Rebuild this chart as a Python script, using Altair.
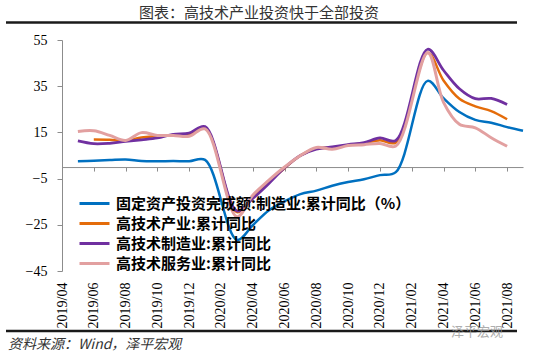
import altair as alt
import pandas as pd

months = ["2019/04", "2019/05", "2019/06", "2019/07", "2019/08", "2019/09", "2019/10", "2019/11", "2019/12",
          "2020/01", "2020/02", "2020/03", "2020/04", "2020/05", "2020/06", "2020/07", "2020/08", "2020/09",
          "2020/10", "2020/11", "2020/12", "2021/01", "2021/02", "2021/03", "2021/04", "2021/05", "2021/06",
          "2021/07", "2021/08", "2021/09"]
tick_labels = months[0::2]

series_names = ["固定资产投资完成额:制造业:累计同比（%）", "高技术产业:累计同比",
                "高技术制造业:累计同比", "高技术服务业:累计同比"]
series_colors = ["#0070C0", "#E46C0A", "#7030A0", "#E2A0A0"]

fai_mfg = [None, 2.5, 2.7, 3.0, 3.3, 2.6, 2.5, 2.6, 2.5, 3.1, None, -31.5, -25.2, -18.8, -14.8, -11.7,
           -10.2, -8.1, -6.5, -5.3, -3.5, -2.2, None, 37.3, 29.8, 23.8, 20.4, 19.2, 17.3, 15.7]
hightech = [None, None, 11.9, 11.8, 11.4, 12.8, 13.4, 13.9, 14.2, 17.0, None, -19.5, -13.0, -6.5, -0.5, 5.0,
            8.0, 8.5, 9.5, 10.3, 11.6, 10.6, None, 49.5, 37.5, 29.6, 26.3, 24.2, 20.7, None]
hightech_mfg = [None, 11.3, 10.1, 10.3, 11.1, 11.8, 12.6, 14.2, 14.7, 17.5, None, -19.0, -13.6, -7.2, -0.3, 5.0,
                7.7, 8.7, 9.7, 10.6, 12.6, 11.5, None, 51.0, 41.9, 33.9, 29.6, 29.7, 27.1, None]
hightech_srv = [None, 15.4, 15.7, 13.7, 11.5, 14.9, 13.7, 13.7, 13.3, 16.5, None, -21.5, -12.2, -5.8, 0.0, 5.0,
                8.5, 7.7, 9.3, 9.7, 10.2, 9.1, None, 49.5, 28.0, 18.5, 17.0, 12.7, 9.0, None]

title_text = "图表：高技术产业投资快于全部投资"
source_text = "资料来源：Wind，泽平宏观"
watermark_text = "泽平宏观"

rows = []
for name, vals in zip(series_names, [fai_mfg, hightech, hightech_mfg, hightech_srv]):
    for m, v in zip(months, vals):
        if v is not None:
            rows.append({"month": m, "series": name, "value": v})
df = pd.DataFrame(rows)

W, H = 461, 231
SERIF = "Liberation Serif"
CJK = "Noto Sans CJK SC"

x_scale = alt.Scale(type="point", domain=months, padding=0)
y_scale = alt.Scale(domain=[-45, 55], nice=False, zero=False)

x_axis = alt.Axis(values=tick_labels, title=None, grid=False, offset=-H * 0.45,
                  domainColor="#8c8c8c", domainWidth=1, tickColor="#8c8c8c", tickSize=4,
                  labelAngle=270, labelFont=SERIF, labelFontSize=14, labelColor="black",
                  labelPadding=111, labelOverlap=False)
y_axis = alt.Axis(values=[-45, -25, -5, 15, 35, 55], title=None, grid=False,
                  domainColor="#8c8c8c", tickColor="#8c8c8c", tickSize=5,
                  labelFont=SERIF, labelFontSize=14, labelColor="black", labelPadding=10)

legend = alt.Legend(orient="none", legendX=25, legendY=156, title=None,
                    symbolType="M-3,0H3", symbolSize=100, symbolStrokeWidth=3,
                    labelFont=CJK, labelFontSize=15, labelFontWeight="bold", labelColor="black",
                    labelOffset=14, rowPadding=4, padding=0, labelLimit=500)
color_scale = alt.Scale(domain=series_names, range=series_colors)

widths = {series_names[0]: 2.5, series_names[1]: 2.5, series_names[2]: 2.75, series_names[3]: 3.0}

layers = []
for name in series_names:
    layers.append(
        alt.Chart(df).transform_filter(alt.datum.series == name)
        .mark_line(interpolate="catmull-rom", strokeWidth=widths[name])
        .encode(x=alt.X("month:O", scale=x_scale, axis=x_axis, sort=months),
                y=alt.Y("value:Q", scale=y_scale, axis=y_axis),
                color=alt.Color("series:N", scale=color_scale, legend=legend))
    )

title_layer = alt.Chart(pd.DataFrame({"t": [title_text]})).mark_text(
    font=CJK, fontSize=15, color="#333333", align="center", baseline="middle"
).encode(text="t:N", x=alt.value(197), y=alt.value(-27))

top_rule = alt.Chart(pd.DataFrame({"a": [0]})).mark_rule(color="#1a1a1a", strokeWidth=2.5).encode(
    x=alt.value(-56), x2=alt.value(455), y=alt.value(-17.5))
bottom_rule = alt.Chart(pd.DataFrame({"a": [0]})).mark_rule(color="#1a1a1a", strokeWidth=2.5).encode(
    x=alt.value(-56), x2=alt.value(455), y=alt.value(291))

source_layer = alt.Chart(pd.DataFrame({"t": [source_text]})).mark_text(
    font=CJK, fontSize=14, fontStyle="italic", color="#333333", align="left", baseline="middle"
).encode(text="t:N", x=alt.value(-54), y=alt.value(305))

wm_layer = alt.Chart(pd.DataFrame({"t": [watermark_text]})).mark_text(
    font=CJK, fontSize=13, color="#9a9a9a", opacity=0.8, align="center", baseline="middle"
).encode(text="t:N", x=alt.value(415), y=alt.value(292))

chart = alt.layer(*layers, title_layer, top_rule, bottom_rule, source_layer, wm_layer).properties(
    width=W, height=H,
    autosize=alt.AutoSizeParams(type="none"),
    padding={"left": 62, "top": 40, "right": 27, "bottom": 83},
    background="white",
).configure_view(stroke=None)

chart.save("out.html", embed_options={"renderer": "svg", "actions": False})
